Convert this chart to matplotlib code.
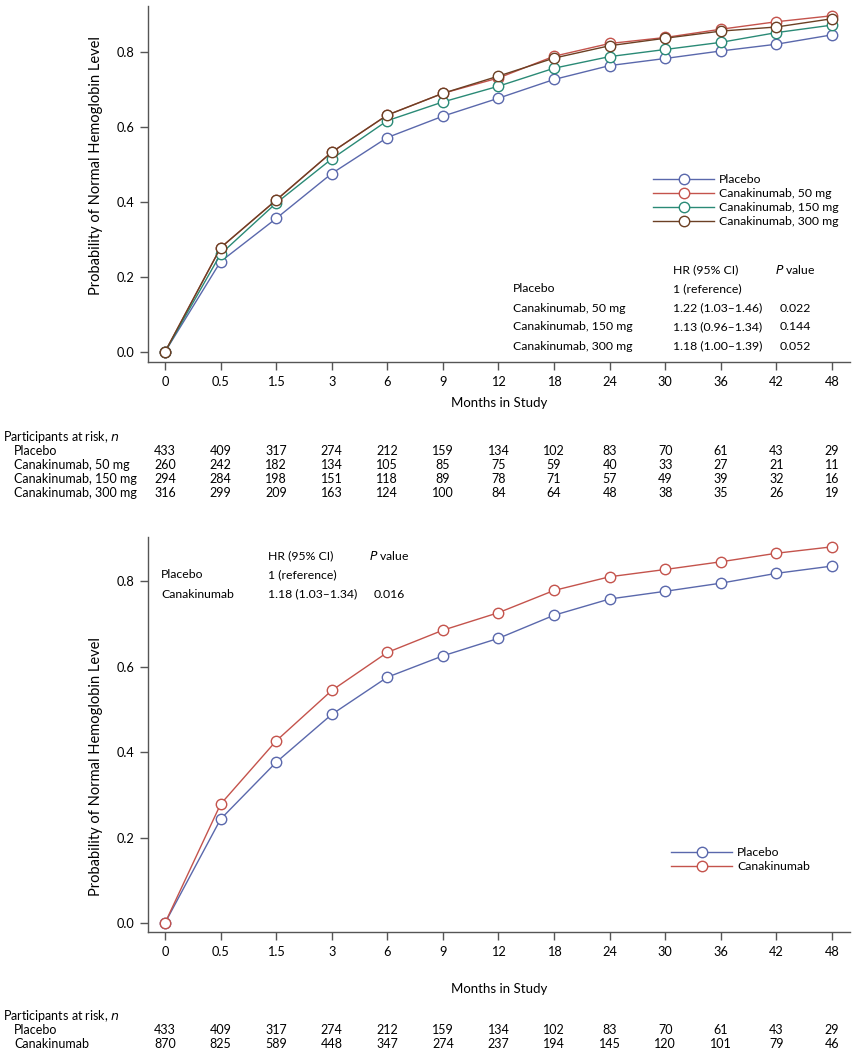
import matplotlib
matplotlib.use("Agg")
import matplotlib.pyplot as plt
import matplotlib.transforms as mtrans

plt.rcParams['font.family'] = ['Lato', 'DejaVu Sans']
plt.rcParams['font.size'] = 8.8

# --- data ---
months = ["0", "0.5", "1.5", "3", "6", "9", "12", "18", "24", "30", "36", "42", "48"]

top_placebo = [0.0, 0.241, 0.356, 0.476, 0.572, 0.629, 0.677, 0.727, 0.764, 0.783, 0.803, 0.821, 0.846]
top_50mg = [0.0, 0.278, 0.405, 0.533, 0.632, 0.690, 0.731, 0.789, 0.823, 0.839, 0.861, 0.881, 0.897]
top_150mg = [0.0, 0.261, 0.397, 0.515, 0.617, 0.667, 0.709, 0.757, 0.788, 0.807, 0.826, 0.852, 0.872]
top_300mg = [0.0, 0.278, 0.405, 0.533, 0.632, 0.690, 0.736, 0.784, 0.817, 0.837, 0.856, 0.867, 0.889]

bot_placebo = [0.0, 0.243, 0.376, 0.488, 0.575, 0.625, 0.666, 0.720, 0.758, 0.776, 0.795, 0.818, 0.835]
bot_cana = [0.0, 0.278, 0.426, 0.544, 0.633, 0.685, 0.726, 0.778, 0.810, 0.827, 0.845, 0.865, 0.880]

top_names = ["Placebo", "Canakinumab, 50 mg", "Canakinumab, 150 mg", "Canakinumab, 300 mg"]
bot_names = ["Placebo", "Canakinumab"]

top_risk = [
    [433, 409, 317, 274, 212, 159, 134, 102, 83, 70, 61, 43, 29],
    [260, 242, 182, 134, 105, 85, 75, 59, 40, 33, 27, 21, 11],
    [294, 284, 198, 151, 118, 89, 78, 71, 57, 49, 39, 32, 16],
    [316, 299, 209, 163, 124, 100, 84, 64, 48, 38, 35, 26, 19],
]
bot_risk = [
    [433, 409, 317, 274, 212, 159, 134, 102, 83, 70, 61, 43, 29],
    [870, 825, 589, 448, 347, 274, 237, 194, 145, 120, 101, 79, 46],
]

top_hr = ["1 (reference)", "1.22 (1.03\u20131.46)", "1.13 (0.96\u20131.34)", "1.18 (1.00\u20131.39)"]
top_p = ["", "0.022", "0.144", "0.052"]
bot_hr = ["1 (reference)", "1.18 (1.03\u20131.34)"]
bot_p = ["", "0.016"]

top_colors = ["#5a68ac", "#c4534c", "#2a8a76", "#6b4024"]
bot_colors = ["#5a68ac", "#c4534c"]

W, H = 857, 1050
fig = plt.figure(figsize=(W / 100, H / 100), dpi=100)


def fx(px):
    return px / W


def fy(py):
    return 1 - py / H


def style_axes(ax, ylim, ylab_y):
    x = list(range(len(months)))
    ax.set_xlim(-0.306, 12.324)
    ax.set_ylim(*ylim)
    ax.set_xticks(x)
    ax.set_xticklabels(months)
    ax.set_yticks([0.0, 0.2, 0.4, 0.6, 0.8])
    ax.set_yticklabels(["0.0", "0.2", "0.4", "0.6", "0.8"])
    for s in ["top", "right"]:
        ax.spines[s].set_visible(False)
    for s in ["left", "bottom"]:
        ax.spines[s].set_color("#555555")
        ax.spines[s].set_linewidth(1.0)
    ax.tick_params(direction="out", length=6, width=1.0, color="#555555", pad=4, labelsize=9.2)
    ax.set_ylabel("Probability of Normal Hemoglobin Level", fontsize=10.5)
    ax.yaxis.set_label_coords(-0.064, ylab_y)
    ax.set_xlabel("Months in Study", fontsize=9.5)


def plot_series(ax, series, names, colors):
    x = list(range(len(months)))
    for ys, name, c in zip(series, names, colors):
        ax.plot(x, ys, color=c, lw=1.0, marker="o", ms=7.5, mfc="white", mec=c, mew=1.0, label=name)


# --- top panel ---
ax1 = fig.add_axes([fx(148), fy(362), fx(850) - fx(148), fy(6) - fy(362)])
plot_series(ax1, [top_placebo, top_50mg, top_150mg, top_300mg], top_names, top_colors)
style_axes(ax1, (-0.027, 0.923), 0.553)
ax1.xaxis.set_label_coords(0.5, -0.098)
ax1.legend(loc="upper left", bbox_to_anchor=(fx(653), fy(174)), bbox_transform=fig.transFigure,
           frameon=False, handlelength=5.0, handletextpad=0.4, labelspacing=0.25,
           borderpad=0, borderaxespad=0, numpoints=1, fontsize=8.8)

fig.text(fx(673), fy(270), "HR (95% CI)", va="center")
fig.text(fx(775), fy(270), "$\\mathit{P}$ value", va="center")
for i, name in enumerate(top_names):
    yy = fy(289 + 19 * i)
    fig.text(fx(513), yy, name, va="center")
    fig.text(fx(673), yy, top_hr[i], va="center")
    fig.text(fx(780), yy, top_p[i], va="center")

tr1 = mtrans.blended_transform_factory(ax1.transData, fig.transFigure)
fig.text(fx(3), fy(437), "Participants at risk, $\\mathit{n}$", va="center", fontsize=9)
for i, name in enumerate(top_names):
    yy = fy(451 + 14 * i)
    fig.text(fx(14), yy, name, va="center", fontsize=9)
    for j, v in enumerate(top_risk[i]):
        ax1.text(j, yy, str(v), transform=tr1, ha="center", va="center", fontsize=9)

# --- bottom panel ---
ax2 = fig.add_axes([fx(148), fy(932), fx(850) - fx(148), fy(537) - fy(932)])
plot_series(ax2, [bot_placebo, bot_cana], bot_names, bot_colors)
style_axes(ax2, (-0.021, 0.903), 0.418)
ax2.xaxis.set_label_coords(0.5, -0.13)
ax2.legend(loc="upper left", bbox_to_anchor=(fx(671), fy(847)), bbox_transform=fig.transFigure,
           frameon=False, handlelength=5.0, handletextpad=0.4, labelspacing=0.25,
           borderpad=0, borderaxespad=0, numpoints=1, fontsize=8.8)

fig.text(fx(268), fy(556), "HR (95% CI)", va="center")
fig.text(fx(369), fy(556), "$\\mathit{P}$ value", va="center")
for i, name in enumerate(bot_names):
    yy = fy(575 + 19 * i)
    fig.text(fx(161), yy, name, va="center")
    fig.text(fx(268), yy, bot_hr[i], va="center")
    fig.text(fx(374), yy, bot_p[i], va="center")

tr2 = mtrans.blended_transform_factory(ax2.transData, fig.transFigure)
fig.text(fx(3), fy(1016), "Participants at risk, $\\mathit{n}$", va="center", fontsize=9)
for i, name in enumerate(bot_names):
    yy = fy(1030 + 14 * i)
    fig.text(fx(14), yy, name, va="center", fontsize=9)
    for j, v in enumerate(bot_risk[i]):
        ax2.text(j, yy, str(v), transform=tr2, ha="center", va="center", fontsize=9)

fig.savefig("out.png", dpi=100)
